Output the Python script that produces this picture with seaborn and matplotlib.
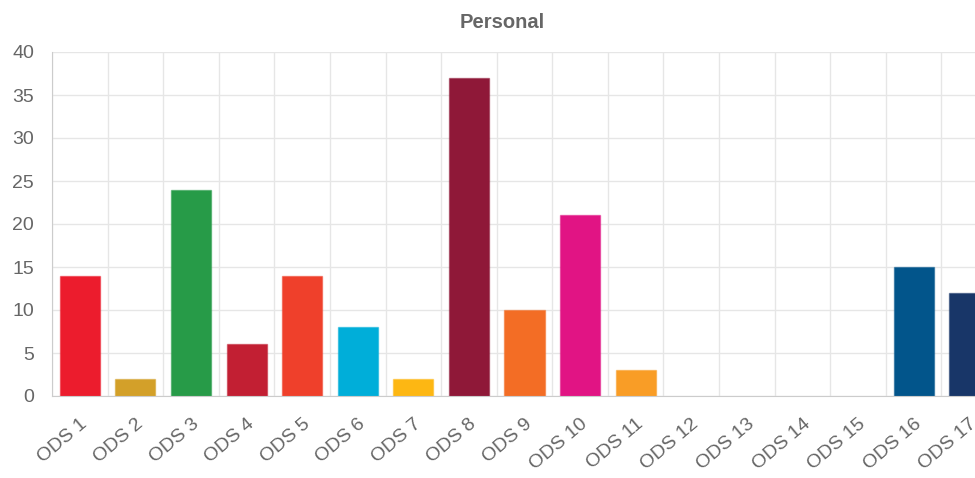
import numpy as np
import pandas as pd
import matplotlib
matplotlib.use("Agg")
import matplotlib.pyplot as plt
import matplotlib.transforms as mtransforms
import seaborn as sns

categories = ["ODS 1", "ODS 2", "ODS 3", "ODS 4", "ODS 5", "ODS 6", "ODS 7", "ODS 8", "ODS 9",
              "ODS 10", "ODS 11", "ODS 12", "ODS 13", "ODS 14", "ODS 15", "ODS 16", "ODS 17"]
values = [14, 2, 24, 6, 14, 8, 2, 37, 10, 21, 3, 0, 0, 0, 0, 15, 12]
colors = ["#EC1C2D", "#D3A029", "#279B48", "#C21F33", "#EF402B", "#00AED9", "#FDB713", "#8F1838",
          "#F36D25", "#E11484", "#F99D26", "#CF8D2A", "#48773E", "#007DBC", "#3EB049", "#02558B",
          "#183668"]
y_ticks = [0, 5, 10, 15, 20, 25, 30, 35, 40]

df = pd.DataFrame({"ods": categories, "count": values})

sns.set_style("white")
plt.rcParams['font.family'] = ['Liberation Sans', 'DejaVu Sans']

fig = plt.figure(figsize=(9.75, 4.78), dpi=100)
# axes run past the right edge, the last bar is cut off like in the original
ax = fig.add_axes([52 / 975, 82 / 478, 945 / 975, 344 / 478])

sns.barplot(data=df, x="ods", y="count", hue="ods", palette=colors, legend=False,
            width=0.72, saturation=1, linewidth=1, edgecolor="white", ax=ax)
for p, c, v in zip(ax.patches, colors, values):
    p.set_edgecolor(matplotlib.colors.to_rgba(c, 0.5))
    if v == 0:
        p.set_linewidth(0)

ax.set_xlim(-0.5, len(categories) - 0.5)
ax.set_ylim(0, 40)
ax.set_yticks(y_ticks)
ax.set_xticks(np.arange(len(categories)))
ax.set_xticks(np.arange(len(categories) + 1) - 0.5, minor=True)
ax.set_xticklabels(categories, rotation=40, ha="right", rotation_mode="anchor")

# nudge rotated labels a little to the right
shift = mtransforms.ScaledTranslation(4 / 100, 0, fig.dpi_scale_trans)
for lbl in ax.get_xticklabels():
    lbl.set_transform(lbl.get_transform() + shift)

ax.grid(False)
ax.yaxis.grid(True, color="#e6e6e6", linewidth=1)
ax.xaxis.grid(True, which="minor", color="#e6e6e6", linewidth=1)
ax.tick_params(axis="x", which="major", length=0, pad=14, labelsize=14, labelcolor="#666666")
ax.tick_params(axis="x", which="minor", length=7, color="#e6e6e6", width=1)
ax.tick_params(axis="y", length=10, color="#e6e6e6", width=1, pad=3, labelsize=14,
               labelcolor="#666666")

for s in ["top", "right"]:
    ax.spines[s].set_visible(False)
ax.spines["left"].set_color("#cccccc")
ax.spines["bottom"].set_color("#cccccc")
ax.set_axisbelow(True)
ax.set_xlabel("")
ax.set_ylabel("")

fig.text(502 / 975, 1 - 22 / 478, "Personal", ha="center", va="center",
         fontsize=14.5, fontweight="bold", color="#666666")

fig.savefig("out.png", dpi=100)
